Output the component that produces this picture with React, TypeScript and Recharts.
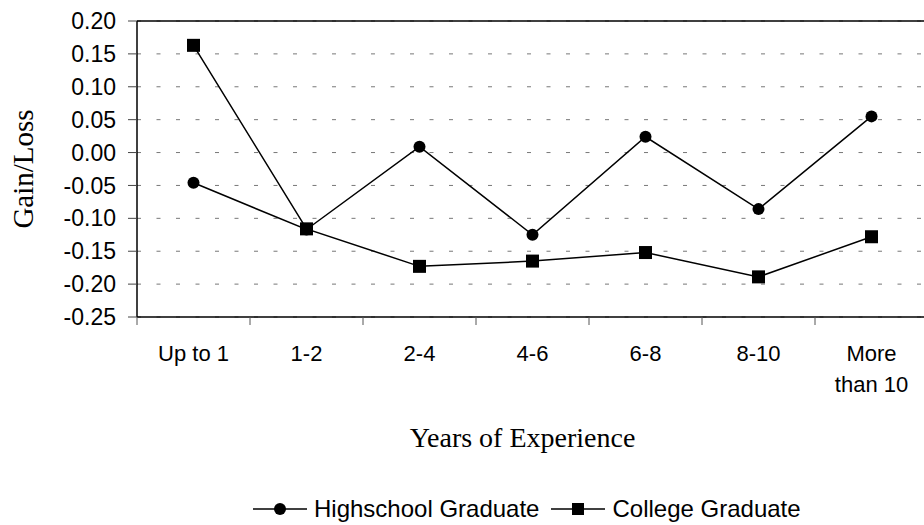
import React from "react";
import { CartesianGrid, Label, Legend, Line, LineChart, ReferenceLine, Text, XAxis, YAxis } from "recharts";

const categories = ["Up to 1", "1-2", "2-4", "4-6", "6-8", "8-10", "More than 10"];
const highschool = [-0.046, -0.117, 0.009, -0.125, 0.024, -0.086, 0.055];
const college = [0.163, -0.116, -0.173, -0.165, -0.152, -0.189, -0.128];
const yTicks = [0.2, 0.15, 0.1, 0.05, 0, -0.05, -0.1, -0.15, -0.2, -0.25];
const seriesNames = ["Highschool Graduate", "College Graduate"];

const data = categories.map((cat, i) => ({ cat, hs: highschool[i], col: college[i] }));

const SANS = "Arial, 'Liberation Sans', sans-serif";
const SERIF = "'Times New Roman', 'Liberation Serif', serif";

// labels centred in each category, tick marks on the category boundaries
function CategoryTick(props: any) {
  const { x, y, payload, index, visibleTicksCount, width } = props;
  const half = (width || 791) / (visibleTicksCount || 7) / 2;
  const axisY = y - 28;
  return (
    <g>
      <line x1={x - half} x2={x - half} y1={axisY} y2={axisY + 8} stroke="#555" />
      {index === visibleTicksCount - 1 && (
        <line x1={x + half} x2={x + half} y1={axisY} y2={axisY + 8} stroke="#555" />
      )}
      <Text x={x} y={y} width={90} textAnchor="middle" verticalAnchor="start" lineHeight={31}
        style={{ fontSize: "22px", fontFamily: SANS }} fill="#000">
        {payload.value}
      </Text>
    </g>
  );
}

const circleDot = (p: any) => <circle key={`c${p.index}`} cx={p.cx} cy={p.cy} r={6} fill="#000" />;
const squareDot = (p: any) => (
  <rect key={`s${p.index}`} x={p.cx - 6.5} y={p.cy - 6.5} width={13} height={13} fill="#000" />
);

function LegendIcon({ square }: { square: boolean }) {
  return (
    <svg width={54} height={14} style={{ display: "block" }}>
      <line x1={0} x2={54} y1={7} y2={7} stroke="#000" strokeWidth={1.5} />
      {square ? <rect x={21} y={1} width={12} height={12} fill="#000" /> : <circle cx={27} cy={7} r={6} fill="#000" />}
    </svg>
  );
}

function renderLegend() {
  return (
    <div style={{ height: 30, display: "flex", alignItems: "center", paddingLeft: 253, fontFamily: SANS, fontSize: 24 }}>
      {seriesNames.map((name, i) => (
        <div key={name} style={{ display: "flex", alignItems: "center", marginRight: 12 }}>
          <LegendIcon square={i === 1} />
          <span style={{ marginLeft: 7 }}>{name}</span>
        </div>
      ))}
    </div>
  );
}

export default function App() {
  return (
    <div style={{ position: "absolute", left: 0, top: 0, width: 924, height: 525, overflow: "hidden", background: "#fff" }}>
      <LineChart width={932} height={525} data={data} margin={{ top: 21, right: 4, bottom: 1, left: 0 }}>
        <CartesianGrid vertical={false} stroke="#777" strokeDasharray="4 15.5" />
        <XAxis dataKey="cat" interval={0} padding={{ left: 56.5, right: 56.5 }} height={177}
          tickSize={8} tickMargin={20} tickLine={false} tick={<CategoryTick />}
          axisLine={{ stroke: "#000", strokeWidth: 1.5 }}>
          <Label content={(p: any) => {
            const vb = p.viewBox;
            return (
              <text x={vb.x + vb.width / 2 - 10} y={vb.y + 130} textAnchor="middle" fontFamily={SERIF} fontSize={28} fill="#000">
                Years of Experience
              </text>
            );
          }} />
        </XAxis>
        <YAxis type="number" width={137} domain={[-0.25, 0.2]} ticks={yTicks} interval={0}
          tickFormatter={(v: number) => v.toFixed(2)} tickSize={9} tickMargin={12}
          tick={{ fontSize: 23, fill: "#000", fontFamily: SANS }}
          tickLine={{ stroke: "#444" }} axisLine={{ stroke: "#000", strokeWidth: 1.5 }}>
          <Label content={(p: any) => {
            const vb = p.viewBox;
            const cy = vb.y + vb.height / 2;
            return (
              <text x={33} y={cy} transform={`rotate(-90, 33, ${cy})`} textAnchor="middle" fontFamily={SERIF} fontSize={29} fill="#000">
                Gain/Loss
              </text>
            );
          }} />
        </YAxis>
        <ReferenceLine y={0.2} stroke="#000" strokeWidth={1.5} />
        <Legend verticalAlign="bottom" content={renderLegend} />
        <Line type="linear" dataKey="hs" name={seriesNames[0]} stroke="#000" strokeWidth={1.5}
          dot={circleDot} activeDot={false} isAnimationActive={false} />
        <Line type="linear" dataKey="col" name={seriesNames[1]} stroke="#000" strokeWidth={1.5}
          dot={squareDot} activeDot={false} isAnimationActive={false} />
      </LineChart>
    </div>
  );
}
